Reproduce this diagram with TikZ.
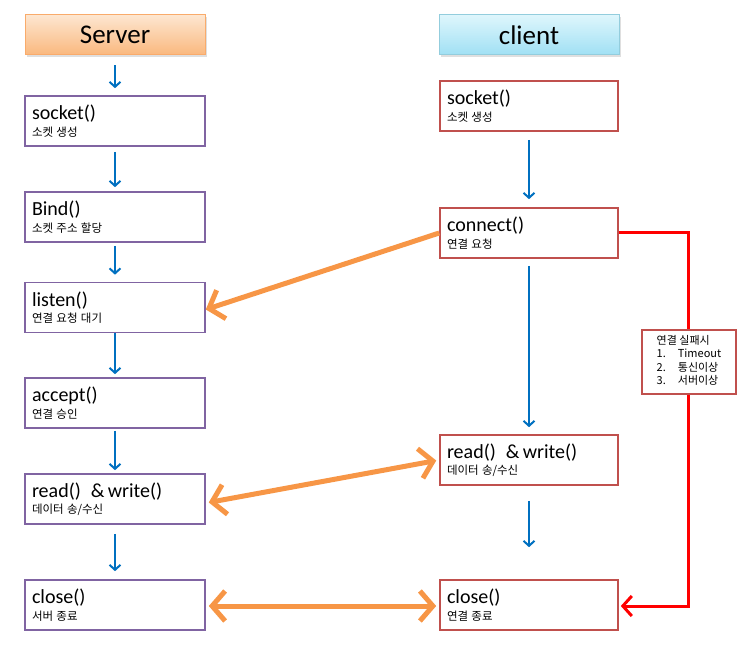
\documentclass[tikz,border=0pt]{standalone}
\usepackage{fontspec}
\setmainfont{Carlito}
\newfontfamily\kr{Noto Sans CJK KR}
\usetikzlibrary{arrows.meta,shadows}

\definecolor{srvline}{RGB}{128,100,162}
\definecolor{cliline}{RGB}{192,80,77}
\definecolor{flowblue}{RGB}{0,112,192}
\definecolor{msgorange}{RGB}{247,150,70}
\definecolor{failred}{RGB}{255,0,0}

\newcommand{\fnlabel}[2]{{\fontsize{20}{21}\selectfont #1}\\[3pt]{\kr\fontsize{11.5}{12}\selectfont #2}}

\tikzset{
  hdr/.style={minimum width=180pt, minimum height=40pt, inner sep=0pt, line width=1pt,
    font=\fontsize{27}{30}\selectfont,
    drop shadow={shadow xshift=1.5pt, shadow yshift=-2pt, opacity=.25}},
  srvhdr/.style={hdr, draw=msgorange!80, top color={rgb,255:red,253;green,230;blue,208}, bottom color={rgb,255:red,250;green,184;blue,126}},
  clihdr/.style={hdr, draw={rgb,255:red,147;green,205;blue,221}, top color={rgb,255:red,222;green,246;blue,252}, bottom color={rgb,255:red,160;green,224;blue,244}},
  fnbox/.style={draw, line width=1.6pt, fill=white, minimum height=50pt, inner xsep=7pt,
    inner ysep=2pt, align=left, anchor=center},
  srv/.style={fnbox, draw=srvline, text width=166pt},
  cli/.style={fnbox, draw=cliline, text width=164pt},
  flow/.style={flowblue, line width=2pt, -{Straight Barb[length=5pt,width=11pt]}},
  msg/.style={msgorange, line width=5pt, line join=round,
    {Straight Barb[length=13pt,width=30pt]}-{Straight Barb[length=13pt,width=30pt]}},
  fail/.style={failred, line width=3pt, -{Straight Barb[length=9pt,width=20pt]}}
}

\begin{document}
\begin{tikzpicture}[x=1pt,y=-1pt]
\useasboundingbox (0,0) rectangle (750,652);

% headers
\node[srvhdr] (shdr) at (115,35) {Server};
\node[clihdr] (chdr) at (529,35) {client};

% server side
\node[srv] (ssock) at (115,121) {\fnlabel{socket()}{소켓 생성}};
\node[srv] (sbind) at (115,217) {\fnlabel{Bind()}{소켓 주소 할당}};
\node[srv] (slist) at (115,307.5) {\fnlabel{listen()}{연결 요청 대기}};
\node[srv] (sacc) at (115,403) {\fnlabel{accept()}{연결 승인}};
\node[srv] (srw) at (115,499) {\fnlabel{read()\enspace\& write()}{데이터 송/수신}};
\node[srv] (sclose) at (115,605) {\fnlabel{close()}{서버 종료}};

% client side
\node[cli] (csock) at (529,106) {\fnlabel{socket()}{소켓 생성}};
\node[cli] (cconn) at (529,233) {\fnlabel{connect()}{연결 요청}};
\node[cli] (crw) at (529,460) {\fnlabel{read()\enspace\& write()}{데이터 송/수신}};
\node[cli] (cclose) at (529,605) {\fnlabel{close()}{연결 종료}};

% blue flow
\draw[flow, shorten <=10pt, shorten >=7pt] (shdr) -- (ssock);
\draw[flow, shorten <=5pt, shorten >=4pt] (ssock) -- (sbind);
\draw[flow, shorten <=3pt, shorten >=7pt] (sbind) -- (slist);
\draw[flow, shorten >=3pt] (slist) -- (sacc);
\draw[flow, shorten <=2pt, shorten >=3pt] (sacc) -- (srw);
\draw[flow, shorten <=9pt, shorten >=8pt] (srw) -- (sclose);
\draw[flow, shorten <=8pt, shorten >=8pt] (csock) -- (cconn);
\draw[flow, shorten <=7pt, shorten >=7pt] (cconn) -- (crw);
\draw[flow, shorten <=15pt, shorten >=32pt] (crw) -- (cclose);

% messages
\draw[msg, {Straight Barb[length=13pt,width=30pt]}-] ([yshift=-2pt]slist.east) -- (cconn.west);
\draw[msg, shorten <=3pt, shorten >=3pt] ([yshift=-4pt]srw.east) -- (crw.west);
\draw[msg, shorten <=3pt, shorten >=3pt] ([yshift=-1pt]sclose.east) -- ([yshift=-1pt]cclose.east -| cclose.west);

% failure path
\draw[fail, line join=miter] (cconn.east) -- ++(70,0) |- ([xshift=2pt,yshift=-1pt]cclose.east);
\node[draw=cliline, line width=1.5pt, fill=white, minimum width=94pt, minimum height=64pt,
  inner xsep=9pt, font=\kr\fontsize{11}{13.5}\selectfont] (failnote) at (689,362)
  {\begin{tabular}{@{}l@{\hspace{12pt}}l@{}}
   \multicolumn{2}{@{}l@{}}{연결 실패시}\\
   1. & Timeout\\
   2. & 통신이상\\
   3. & 서버이상
   \end{tabular}};

\end{tikzpicture}
\end{document}
